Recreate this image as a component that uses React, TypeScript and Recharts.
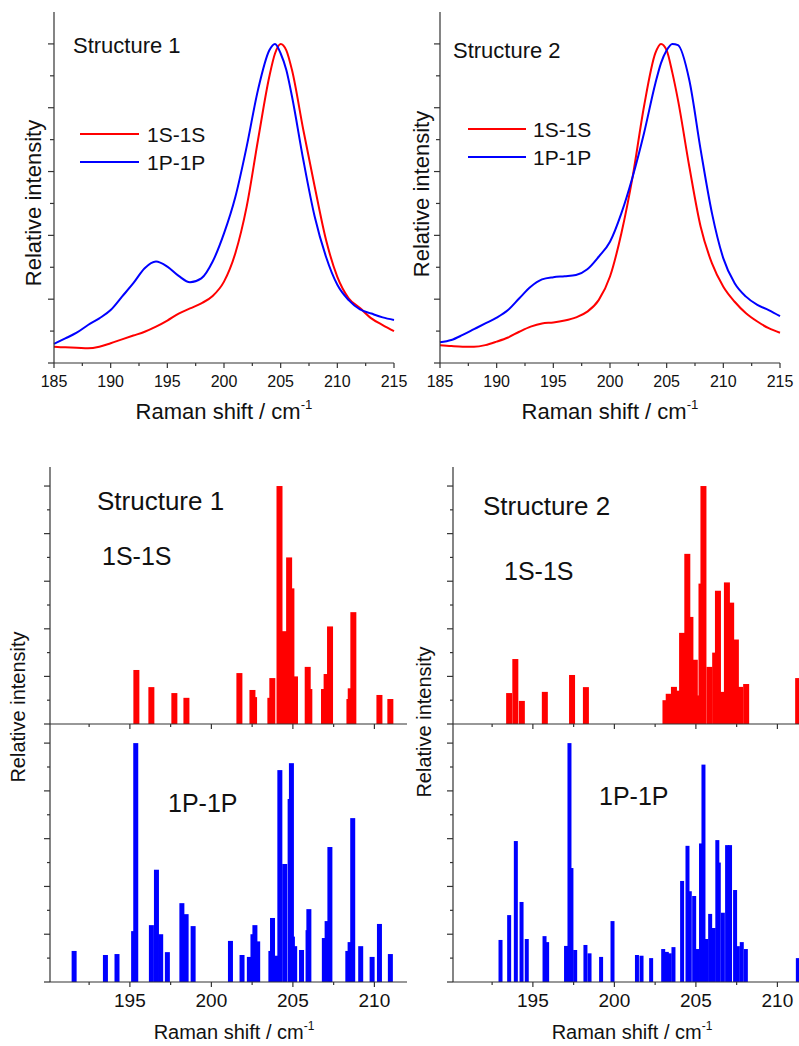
import React from 'react';
import { LineChart, Line, BarChart, Bar, XAxis, YAxis, Legend } from 'recharts';

const FONT = '"Liberation Sans", Arial, Helvetica, sans-serif';
const RED = '#ff0000';
const BLUE = '#0000ff';
const AXIS = '#333333';

// ---- top row: broadened spectra (relative intensity) ----
const shift = [185, 186, 187, 188, 189, 190, 191, 192, 193, 194, 195, 196, 197, 198, 199, 200, 201, 202, 203, 204, 204.5, 205, 205.5, 206, 207, 208, 209, 210, 211, 212, 213, 214, 215];
const s1S = [0.051, 0.049, 0.048, 0.046, 0.051, 0.062, 0.074, 0.086, 0.098, 0.114, 0.133, 0.155, 0.171, 0.187, 0.21, 0.255, 0.344, 0.49, 0.699, 0.898, 0.97, 1.0, 0.98, 0.918, 0.73, 0.553, 0.386, 0.27, 0.203, 0.172, 0.14, 0.119, 0.1];
const s1P = [0.06, 0.077, 0.095, 0.119, 0.14, 0.166, 0.208, 0.25, 0.297, 0.318, 0.302, 0.273, 0.253, 0.265, 0.318, 0.406, 0.52, 0.678, 0.856, 0.98, 1.0, 0.97, 0.918, 0.835, 0.636, 0.459, 0.333, 0.245, 0.197, 0.168, 0.155, 0.143, 0.135];
const s2S = [0.056, 0.053, 0.051, 0.051, 0.056, 0.067, 0.08, 0.098, 0.114, 0.124, 0.127, 0.133, 0.143, 0.161, 0.197, 0.271, 0.406, 0.584, 0.804, 0.971, 1.0, 0.98, 0.91, 0.824, 0.615, 0.427, 0.312, 0.239, 0.192, 0.156, 0.13, 0.109, 0.095];
const s2P = [0.065, 0.072, 0.088, 0.106, 0.124, 0.142, 0.166, 0.203, 0.239, 0.262, 0.269, 0.272, 0.276, 0.294, 0.333, 0.38, 0.469, 0.584, 0.72, 0.876, 0.94, 0.98, 1.0, 0.996, 0.886, 0.668, 0.469, 0.328, 0.25, 0.208, 0.182, 0.166, 0.147];

const seriesOrder = ['1S-1S', '1P-1P'];
const topXTicks = [185, 187.5, 190, 192.5, 195, 197.5, 200, 202.5, 205, 207.5, 210, 212.5, 215];
const botXTicks = [192.5, 195, 197.5, 200, 202.5, 205, 207.5, 210];
const yTicks = [0, 0.1, 0.2, 0.3, 0.4, 0.5, 0.6, 0.7, 0.8, 0.9, 1.0];

// ---- bottom row: computed stick spectra ----
const st1SPos = [195.4, 196.32, 197.73, 198.47, 201.72, 202.52, 202.62, 203.62, 203.74, 204.18, 204.47, 204.77, 204.91, 205.13, 205.91, 206.01, 206.91, 207.07, 207.28, 208.47, 208.55, 208.71, 210.31, 210.98];
const st1SInt = [0.227, 0.155, 0.13, 0.11, 0.214, 0.143, 0.113, 0.11, 0.193, 1.0, 0.39, 0.7, 0.57, 0.2, 0.24, 0.147, 0.147, 0.21, 0.41, 0.105, 0.15, 0.47, 0.122, 0.105];

const st1PPos = [191.58, 193.5, 194.21, 195.23, 195.36, 196.32, 196.63, 196.89, 197.3, 198.19, 198.45, 198.88, 201.17, 201.88, 202.33, 202.55, 202.67, 202.84, 203.65, 203.75, 203.98, 204.2, 204.5, 204.83, 204.91, 204.97, 205.11, 205.53, 205.93, 205.98, 206.93, 207.1, 207.27, 208.37, 208.51, 208.67, 209.16, 209.86, 210.31, 210.98];
const st1PInt = [0.13, 0.113, 0.117, 0.213, 1.0, 0.238, 0.47, 0.2, 0.125, 0.33, 0.284, 0.234, 0.172, 0.113, 0.105, 0.2, 0.238, 0.17, 0.13, 0.268, 0.11, 0.887, 0.494, 0.766, 0.916, 0.19, 0.15, 0.134, 0.217, 0.305, 0.184, 0.255, 0.565, 0.13, 0.167, 0.686, 0.15, 0.105, 0.243, 0.117];

const st2SPos = [193.53, 193.91, 194.31, 195.72, 197.39, 198.24, 203.12, 203.32, 203.64, 203.93, 204.14, 204.46, 204.65, 204.92, 205.1, 205.33, 205.45, 205.82, 206.17, 206.34, 206.6, 206.89, 207.15, 207.44, 207.7, 208.07, 211.26];
const st2SInt = [0.13, 0.273, 0.097, 0.135, 0.206, 0.155, 0.1, 0.127, 0.156, 0.14, 0.383, 0.715, 0.45, 0.27, 0.12, 0.59, 1.0, 0.24, 0.3, 0.56, 0.135, 0.595, 0.51, 0.355, 0.156, 0.168, 0.193];

const st2PPos = [193.02, 193.55, 193.96, 194.31, 194.63, 195.72, 195.88, 197.04, 197.25, 197.37, 197.6, 198.23, 198.48, 199.19, 199.89, 201.39, 201.67, 202.26, 203.0, 203.22, 203.4, 203.63, 204.16, 204.49, 204.63, 204.9, 205.12, 205.32, 205.47, 205.66, 205.88, 206.1, 206.32, 206.41, 206.66, 206.92, 207.1, 207.41, 207.58, 207.82, 208.07, 211.26];
const st2PInt = [0.176, 0.28, 0.59, 0.335, 0.18, 0.192, 0.167, 0.151, 1.0, 0.477, 0.134, 0.155, 0.12, 0.105, 0.255, 0.113, 0.11, 0.1, 0.138, 0.126, 0.12, 0.146, 0.423, 0.57, 0.38, 0.36, 0.138, 0.58, 0.91, 0.18, 0.285, 0.226, 0.594, 0.5, 0.29, 0.573, 0.573, 0.385, 0.15, 0.167, 0.138, 0.1];

const topData1 = shift.map((x, i) => ({ shift: x, s: s1S[i], p: s1P[i] }));
const topData2 = shift.map((x, i) => ({ shift: x, s: s2S[i], p: s2P[i] }));
const sticks = (pos: number[], val: number[]) => pos.map((x, i) => ({ x, y: val[i] }));

// ticks: drawn by hand so major/minor can differ in length
const yTick = (majorLen: number, minorLen: number) => (props: any) => {
  const { x, y, payload } = props;
  const major = Math.round(payload.value * 10) % 2 === 0;
  const len = major ? majorLen : minorLen;
  return <line x1={x - len} x2={x} y1={y} y2={y} stroke={AXIS} strokeWidth={1.2} />;
};

const xTick = (majorLen: number, minorLen: number, fontSize: number, dy: number, labels: boolean) => (props: any) => {
  const { x, y, payload } = props;
  const v = payload.value;
  const major = Math.abs(v / 5 - Math.round(v / 5)) < 1e-6;
  return (
    <g>
      <line x1={x} x2={x} y1={y} y2={y + (major ? majorLen : minorLen)} stroke={AXIS} strokeWidth={1.2} />
      {labels && major && (
        <text x={x} y={y + dy} textAnchor="middle" fontSize={fontSize} fontFamily={FONT} fill="#111">
          {v}
        </text>
      )}
    </g>
  );
};

const legendContent = (lineLen: number, textX: number) => (props: any) => {
  const items = [...(props.payload || [])].sort(
    (a: any, b: any) => seriesOrder.indexOf(a.value) - seriesOrder.indexOf(b.value)
  );
  return (
    <svg width={160} height={items.length * 28 + 6}>
      {items.map((it: any, i: number) => (
        <g key={it.value}>
          <line x1={0} x2={lineLen} y1={14 + i * 28} y2={14 + i * 28} stroke={it.color} strokeWidth={2} />
          <text x={textX} y={22 + i * 28} fontSize={21} fontFamily={FONT} fill="#111">
            {it.value}
          </text>
        </g>
      ))}
    </svg>
  );
};

const stickShape = (w: number, color: string) => (props: any) => {
  const { x, y, width, height } = props;
  if (!height || height <= 0) return <g />;
  const cx = x + width / 2;
  return <rect x={cx - w / 2} y={y} width={w} height={height} fill={color} />;
};

const TopPanel = ({ data, yAxisW, rightM, legendPos, lineLen, textX }: any) => (
  <LineChart width={yAxisW + 340 + rightM} height={430} data={data} margin={{ top: 12, right: rightM, bottom: 0, left: 0 }}>
    <XAxis
      dataKey="shift"
      type="number"
      domain={[185, 215]}
      ticks={topXTicks}
      interval={0}
      height={67}
      tickSize={0}
      tickMargin={0}
      tickLine={false}
      axisLine={{ stroke: AXIS, strokeWidth: 1.2 }}
      tick={xTick(5, 3, 16, 24, true)}
    />
    <YAxis
      type="number"
      domain={[0, 1.1]}
      ticks={yTicks}
      interval={0}
      width={yAxisW}
      tickSize={0}
      tickMargin={0}
      tickLine={false}
      axisLine={{ stroke: AXIS, strokeWidth: 1.2 }}
      tick={yTick(6, 4)}
    />
    <Line name="1S-1S" dataKey="s" type="monotone" stroke={RED} strokeWidth={2} dot={false} isAnimationActive={false} />
    <Line name="1P-1P" dataKey="p" type="monotone" stroke={BLUE} strokeWidth={2} dot={false} isAnimationActive={false} />
    <Legend
      layout="vertical"
      align="center"
      verticalAlign="middle"
      wrapperStyle={{ left: legendPos[0], top: legendPos[1], width: 160, height: 62 }}
      content={legendContent(lineLen, textX)}
    />
  </LineChart>
);

const StickPanel = ({ data, color, barW, yAxisW, rightM, topM, height, xHeight, labels }: any) => (
  <BarChart width={420} height={height} data={data} margin={{ top: topM, right: rightM, bottom: 0, left: 0 }}>
    <XAxis
      dataKey="x"
      type="number"
      domain={[190.1, 212]}
      ticks={botXTicks}
      interval={0}
      height={xHeight}
      tickSize={0}
      tickMargin={0}
      tickLine={false}
      axisLine={{ stroke: AXIS, strokeWidth: 1.2 }}
      tick={xTick(5, 3, 19, 25, labels)}
    />
    <YAxis
      type="number"
      domain={[0, 1.08]}
      ticks={yTicks}
      interval={0}
      width={yAxisW}
      tickSize={0}
      tickMargin={0}
      tickLine={false}
      axisLine={{ stroke: AXIS, strokeWidth: 1.2 }}
      tick={yTick(6, 3)}
    />
    <Bar dataKey="y" fill={color} isAnimationActive={false} shape={stickShape(barW, color)} />
  </BarChart>
);

const abs = (left: number, top: number): React.CSSProperties => ({ position: 'absolute', left, top });

const AxisTitle = ({ x, y, size }: any) => (
  <text x={x} y={y} textAnchor="middle" fontSize={size} fontFamily={FONT} fill="#111">
    <tspan>Raman shift / cm</tspan>
    <tspan dy={-size * 0.45} fontSize={size * 0.6}>-1</tspan>
  </text>
);

const YTitle = ({ x, y, size }: any) => (
  <text transform={`translate(${x}, ${y}) rotate(-90)`} textAnchor="middle" fontSize={size} fontFamily={FONT} fill="#111">
    Relative intensity
  </text>
);

const Note = ({ x, y, size, children }: any) => (
  <text x={x} y={y} fontSize={size} fontFamily={FONT} fill="#111">
    {children}
  </text>
);

export default function App() {
  return (
    <div style={{ position: 'absolute', left: 0, top: 0, width: 799, height: 1046, overflow: 'hidden', background: '#fff', fontFamily: FONT }}>
      <div style={abs(0, 0)}>
        <TopPanel data={topData1} yAxisW={54} rightM={26} legendPos={[80, 120]} lineLen={59} textX={67} />
      </div>
      <div style={abs(400, 0)}>
        <TopPanel data={topData2} yAxisW={40} rightM={19} legendPos={[68, 115]} lineLen={58} textX={65} />
      </div>

      <div style={abs(0, 440)}>
        <StickPanel data={sticks(st1SPos, st1SInt)} color={RED} barW={6} yAxisW={50} rightM={13} topM={27} height={300} xHeight={16} labels={false} />
      </div>
      <div style={abs(0, 724)}>
        <StickPanel data={sticks(st1PPos, st1PInt)} color={BLUE} barW={5} yAxisW={50} rightM={13} topM={0} height={322} xHeight={64} labels={true} />
      </div>
      <div style={abs(400, 440)}>
        <StickPanel data={sticks(st2SPos, st2SInt)} color={RED} barW={6} yAxisW={53} rightM={10} topM={27} height={300} xHeight={16} labels={false} />
      </div>
      <div style={abs(400, 724)}>
        <StickPanel data={sticks(st2PPos, st2PInt)} color={BLUE} barW={4} yAxisW={53} rightM={10} topM={0} height={322} xHeight={64} labels={true} />
      </div>

      <svg width={799} height={1046} style={{ position: 'absolute', left: 0, top: 0, pointerEvents: 'none' }}>
        <Note x={73} y={53} size={22}>Structure 1</Note>
        <Note x={453} y={58} size={22}>Structure 2</Note>
        <YTitle x={41} y={203} size={22} />
        <YTitle x={429} y={194} size={22} />
        <AxisTitle x={224} y={419} size={22} />
        <AxisTitle x={610} y={419} size={22} />

        <Note x={97} y={510} size={26}>Structure 1</Note>
        <Note x={102} y={565} size={25}>1S-1S</Note>
        <Note x={168} y={812} size={25}>1P-1P</Note>
        <Note x={483} y={515} size={26}>Structure 2</Note>
        <Note x={504} y={580} size={25}>1S-1S</Note>
        <Note x={599} y={805} size={25}>1P-1P</Note>
        <YTitle x={25} y={707} size={20} />
        <YTitle x={431} y={722} size={20} />
        <AxisTitle x={234} y={1039} size={20} />
        <AxisTitle x={632} y={1039} size={20} />
      </svg>
    </div>
  );
}
